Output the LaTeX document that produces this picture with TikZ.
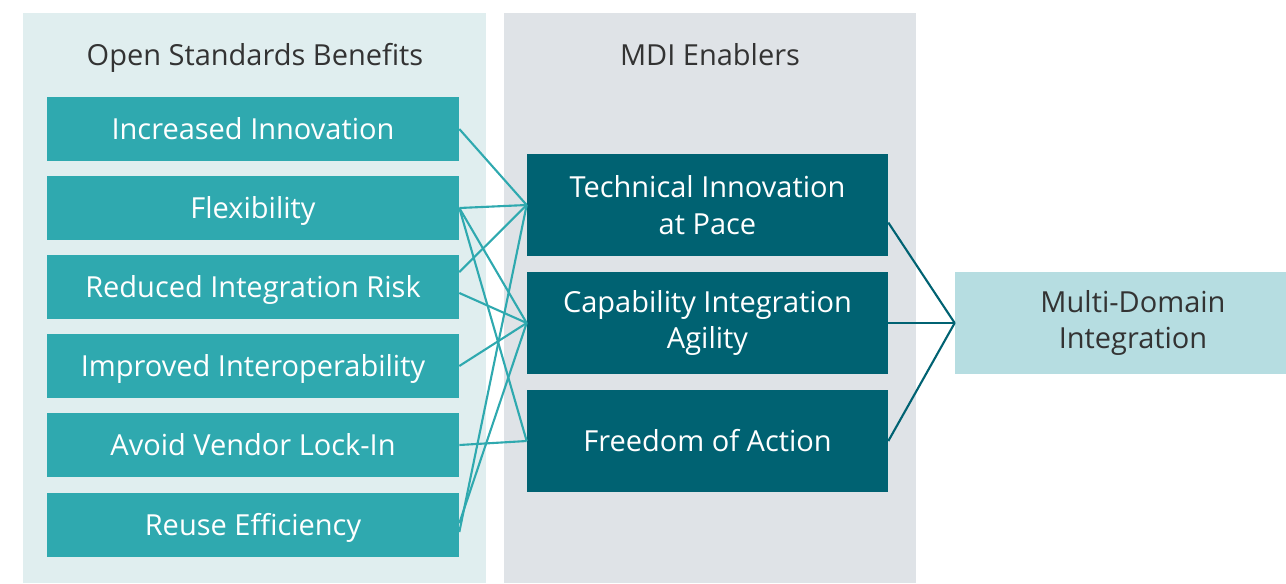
\documentclass[tikz,border=0pt]{standalone}
\usepackage{fontspec}
\setmainfont{Open Sans}
\definecolor{panelA}{HTML}{E0EEEF}
\definecolor{panelB}{HTML}{DFE3E7}
\definecolor{benefitcol}{HTML}{2FA9AF}
\definecolor{enablercol}{HTML}{006272}
\definecolor{goalcol}{HTML}{B6DDE1}
\definecolor{ink}{HTML}{333333}

\begin{document}
\begin{tikzpicture}[x=0.02cm, y=-0.02cm,
  every node/.style={font=\fontsize{16.5}{21}\selectfont, inner sep=0pt},
  heading/.style={text=ink, text height=11.7pt, text depth=0pt},
  benefitbox/.style={fill=benefitcol, text=white, text height=11.7pt, text depth=0pt,
    minimum width=8.24cm, minimum height=1.28cm},
  enablerbox/.style={fill=enablercol, text=white, align=center, minimum width=7.22cm, minimum height=2.04cm},
  goalbox/.style={fill=goalcol, text=ink, align=center, minimum width=6.62cm, minimum height=2.04cm},
  benefitline/.style={draw=benefitcol, line width=1.2pt},
  enablerline/.style={draw=enablercol, line width=1.2pt}]
\useasboundingbox (0,0) rectangle (1286,583);
% Panels
\fill[panelA] (23,13) rectangle (486,583);
\fill[panelB] (504,13) rectangle (916,583);
\node[heading] (hleft) at (255,55) {Open Standards Benefits};
\node[heading] (hmid) at (710,55) {MDI Enablers};
% Open standards benefits
\node[benefitbox] (inc) at (253,129) {Increased Innovation};
\node[benefitbox] (flex) at (253,208) {Flexibility};
\node[benefitbox] (red) at (253,287) {Reduced Integration Risk};
\node[benefitbox] (imp) at (253,366) {Improved Interoperability};
\node[benefitbox] (avoid) at (253,445) {Avoid Vendor Lock-In};
\node[benefitbox] (reuse) at (253,525) {Reuse Efficiency};
% MDI enablers
\node[enablerbox] (tech) at (707.5,205) {Technical Innovation\\at Pace};
\node[enablerbox] (cap) at (707.5,323) {Capability Integration\\Agility};
\node[enablerbox] (free) at (707.5,441) {Freedom of Action};
% Goal
\node[goalbox] (goal) at (1120.5,323) {\hspace*{0.5cm}Multi-Domain\\\hspace*{0.5cm}Integration};
% Benefit to enabler links
\foreach \a/\s/\b in {inc/0/tech, flex/0/tech, flex/0/cap, flex/0/free,
                      red/8.5/tech, red/-3.4/cap, imp/0/cap, avoid/0/free,
                      reuse/-4/tech, reuse/1/cap}
    \draw[benefitline] ([yshift=\s pt]\a.east) -- (\b.west);
% Enabler to goal links
\draw[enablerline] ([yshift=-10pt]tech.east) -- (goal.west);
\draw[enablerline] (cap.east) -- (goal.west);
\draw[enablerline] (free.east) -- (goal.west);
\end{tikzpicture}
\end{document}
